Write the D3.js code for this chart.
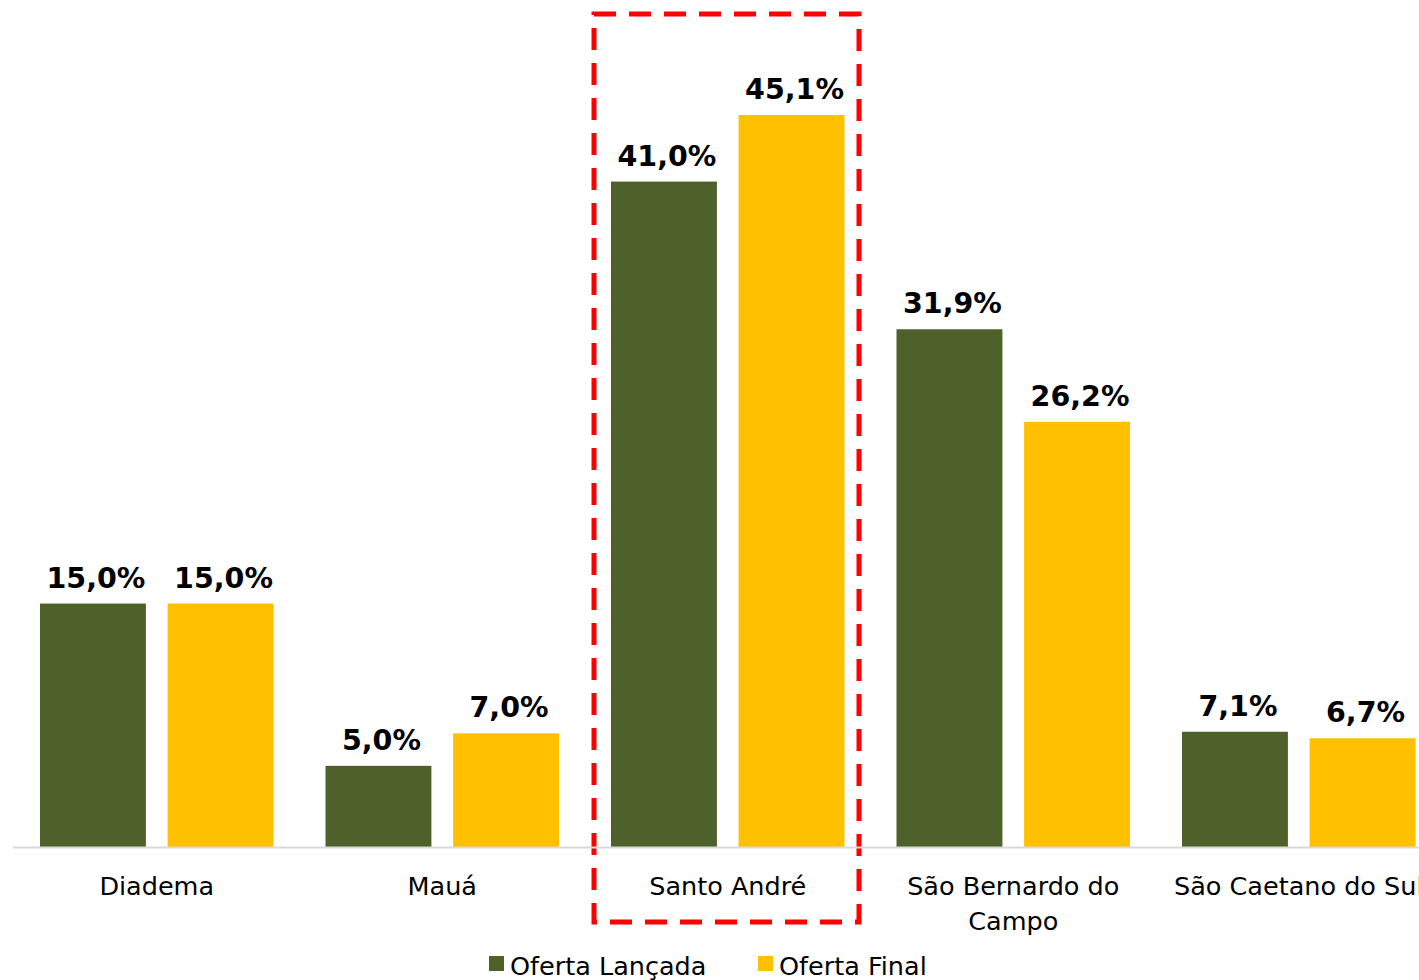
<!DOCTYPE html>
<html>
<head>
<meta charset="utf-8">
<script src="https://cdn.jsdelivr.net/npm/d3@7"></script>
<style>
  body { margin: 0; background: #fff; }
  svg { display: block; }
  text { font-family: "DejaVu Sans", Verdana, sans-serif; fill: #000; }
</style>
</head>
<body>
<div id="chart"></div>
<script>
var categories = ["Diadema", "Mauá", "Santo André", "São Bernardo do Campo", "São Caetano do Sul"];
var series = ["Oferta Lançada", "Oferta Final"];
var ofertaLancada = [15.0, 5.0, 41.0, 31.9, 7.1];
var ofertaFinal = [15.0, 7.0, 45.1, 26.2, 6.7];
var colors = ["#4F612A", "#FFC000"];
var highlight = "Santo André";

var width = 1419, height = 980;
var baseY = 847;

var svg = d3.select("#chart").append("svg")
    .attr("width", width)
    .attr("height", height);

var x = d3.scaleBand()
    .domain(categories)
    .range([14, 14 + 5 * 285.5])
    .paddingInner(0)
    .paddingOuter(0);

var xs = d3.scaleBand()
    .domain(series)
    .range([26, 285.5 - 26])
    .paddingInner(0.17);

var y = d3.scaleLinear()
    .domain([0, 50])
    .range([baseY, baseY - 50 * 16.23]);

var fmt = function(v) { return d3.format(".1f")(v).replace(".", ",") + "%"; };

var rows = categories.map(function(c, i) {
    return {cat: c, vals: [ofertaLancada[i], ofertaFinal[i]]};
});

// highlight box
svg.append("rect")
    .attr("x", x(highlight) + 9)
    .attr("y", 14)
    .attr("width", 265)
    .attr("height", 908)
    .attr("fill", "none")
    .attr("stroke", "#FF0000")
    .attr("stroke-width", 5)
    .attr("stroke-dasharray", "22,13");

var groups = svg.selectAll("g.grp")
    .data(rows)
    .enter().append("g")
    .attr("class", "grp")
    .attr("transform", function(d) { return "translate(" + x(d.cat) + ",0)"; });

groups.selectAll("rect")
    .data(function(d) { return d.vals.map(function(v, j) { return {s: series[j], v: v, j: j}; }); })
    .enter().append("rect")
    .attr("x", function(d) { return xs(d.s); })
    .attr("y", function(d) { return y(d.v); })
    .attr("width", xs.bandwidth())
    .attr("height", function(d) { return baseY - y(d.v); })
    .attr("fill", function(d) { return colors[d.j]; });

groups.selectAll("text.val")
    .data(function(d) { return d.vals.map(function(v, j) { return {s: series[j], v: v}; }); })
    .enter().append("text")
    .attr("class", "val")
    .attr("x", function(d) { return xs(d.s) + xs.bandwidth() / 2 + 3; })
    .attr("y", function(d) { return y(d.v) - 16; })
    .attr("text-anchor", "middle")
    .attr("font-size", 28.5)
    .attr("font-weight", "bold")
    .text(function(d) { return fmt(d.v); });

// axis line
svg.append("line")
    .attr("x1", 13).attr("x2", width)
    .attr("y1", baseY + 0.5).attr("y2", baseY + 0.5)
    .attr("stroke", "#D9D9D9")
    .attr("stroke-width", 2);

// category labels (wrap "São Bernardo do Campo")
var catLines = {"São Bernardo do Campo": ["São Bernardo do", "Campo"]};
categories.forEach(function(c) {
    var lines = catLines[c] || [c];
    var t = svg.append("text")
        .attr("x", x(c) + x.bandwidth() / 2)
        .attr("y", 895)
        .attr("text-anchor", "middle")
        .attr("font-size", 25.5);
    lines.forEach(function(l, i) {
        t.append("tspan")
            .attr("x", x(c) + x.bandwidth() / 2)
            .attr("dy", i === 0 ? 0 : 35)
            .text(l);
    });
});

// legend
var legendX = [489, 758];
series.forEach(function(s, i) {
    svg.append("rect")
        .attr("x", legendX[i]).attr("y", 956)
        .attr("width", 15).attr("height", 15)
        .attr("fill", colors[i]);
    svg.append("text")
        .attr("x", legendX[i] + 21)
        .attr("y", 975)
        .attr("font-size", 25.5)
        .text(s);
});
</script>
</body>
</html>
